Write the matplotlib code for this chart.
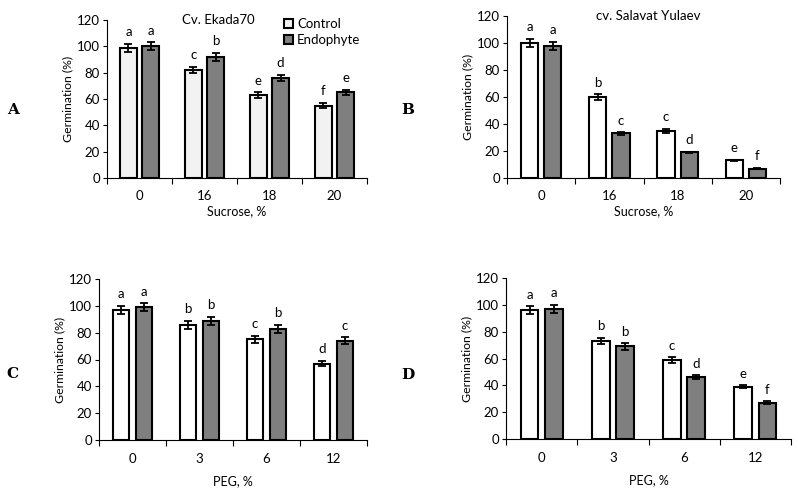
import matplotlib
matplotlib.use("Agg")
import matplotlib.pyplot as plt
import numpy as np
from matplotlib.patches import Patch

plt.rcParams['font.family'] = ['Lato', 'DejaVu Sans']

# ---- data ----
sucrose_cats = ["0", "16", "18", "20"]
peg_cats = ["0", "3", "6", "12"]

A_control = [99, 82, 63, 55]
A_control_err = [3, 2.5, 2, 2]
A_endo = [100, 92, 76, 65]
A_endo_err = [3, 3, 2.5, 2]
A_letters_c = ["a", "c", "e", "f"]
A_letters_e = ["a", "b", "d", "e"]

B_control = [100, 60, 35, 13]
B_control_err = [3, 2, 1.5, 0.4]
B_endo = [98, 33, 19, 7]
B_endo_err = [3, 1, 0.5, 0.4]
B_letters_c = ["a", "b", "c", "e"]
B_letters_e = ["a", "c", "d", "f"]

C_control = [97, 86, 75, 57]
C_control_err = [3, 3, 2.5, 2]
C_endo = [99, 89, 83, 74]
C_endo_err = [3, 3, 3, 2.5]
C_letters_c = ["a", "b", "c", "d"]
C_letters_e = ["a", "b", "b", "c"]

D_control = [96, 73, 59, 39]
D_control_err = [3, 2.5, 2, 1.2]
D_endo = [97, 69, 46, 27]
D_endo_err = [3, 2.5, 1.5, 1]
D_letters_c = ["a", "b", "c", "e"]
D_letters_e = ["a", "b", "d", "f"]

W, H = 798, 494
fig = plt.figure(figsize=(W / 100, H / 100), dpi=100)


def rect(l, r, t, b):
    return [l / W, 1 - b / H, (r - l) / W, (b - t) / H]


def panel(pos, cats, ctrl, ctrl_err, endo, endo_err, lc, le, xlabel,
          ctrl_color, xlabel_pad):
    ax = fig.add_axes(pos)
    x = np.arange(len(cats)) + 0.5
    bw = 0.25
    off = 0.17
    ek = dict(ecolor='black', elinewidth=1.3, capsize=3, capthick=1.3)
    ax.bar(x - off, ctrl, bw, yerr=ctrl_err, color=ctrl_color,
           edgecolor='black', linewidth=1.5, error_kw=ek, zorder=2)
    ax.bar(x + off, endo, bw, yerr=endo_err, color='#7f7f7f',
           edgecolor='black', linewidth=1.5, error_kw=ek, zorder=2)
    for xi, v, e, t in zip(x - off, ctrl, ctrl_err, lc):
        ax.annotate(t, (xi, v + e), xytext=(0, 4), textcoords='offset points',
                    ha='center', va='bottom', fontsize=9.5)
    for xi, v, e, t in zip(x + off, endo, endo_err, le):
        ax.annotate(t, (xi, v + e), xytext=(0, 4), textcoords='offset points',
                    ha='center', va='bottom', fontsize=9.5)
    ax.set_xlim(0, len(cats))
    ax.set_ylim(0, 120)
    ax.set_yticks(np.arange(0, 121, 20))
    ax.set_xticks(x)
    ax.set_xticklabels(cats)
    ax.set_xticks(np.arange(0, len(cats) + 1), minor=True)
    ax.tick_params(axis='x', which='major', length=0, pad=9, labelsize=9.5)
    ax.tick_params(axis='x', which='minor', length=4, width=0.8,
                   direction='out')
    ax.tick_params(axis='y', length=3, width=0.8, direction='out',
                   labelsize=9.5, pad=2)
    for s in ['top', 'right']:
        ax.spines[s].set_visible(False)
    ax.spines['left'].set_linewidth(0.8)
    ax.spines['bottom'].set_linewidth(0.8)
    ax.set_ylabel("Germination (%)", fontsize=8.8, labelpad=3)
    ax.set_xlabel(xlabel, fontsize=9, labelpad=xlabel_pad)
    return ax


axA = panel(rect(107, 367, 20, 178), sucrose_cats, A_control, A_control_err,
            A_endo, A_endo_err, A_letters_c, A_letters_e, "Sucrose, %",
            '#f2f2f2', 2)
axA.text(0.43, 1.0, "Cv. Ekada70", transform=axA.transAxes, ha='center',
         va='center', fontsize=9.5)
axA.legend(handles=[Patch(facecolor='#f2f2f2', edgecolor='black', lw=1.5,
                          label='Control'),
                    Patch(facecolor='#7f7f7f', edgecolor='black', lw=1.5,
                          label='Endophyte')],
           loc='upper left', bbox_to_anchor=(0.66, 1.045), frameon=False,
           fontsize=9.5, handlelength=0.7, handleheight=0.7,
           handletextpad=0.3, labelspacing=0.3, borderaxespad=0)

axB = panel(rect(507, 780, 16, 178), sucrose_cats, B_control, B_control_err,
            B_endo, B_endo_err, B_letters_c, B_letters_e, "Sucrose, %",
            'white', 2)
axB.text(0.516, 1.0, "cv. Salavat Yulaev", transform=axB.transAxes,
         ha='center', va='center', fontsize=9.5)

axC = panel(rect(99, 367, 279, 440), peg_cats, C_control, C_control_err,
            C_endo, C_endo_err, C_letters_c, C_letters_e, "PEG, %",
            'white', 8)
axD = panel(rect(506, 791, 278, 439), peg_cats, D_control, D_control_err,
            D_endo, D_endo_err, D_letters_c, D_letters_e, "PEG, %",
            'white', 8)

for lab, (px, py) in zip("ABCD", [(13, 110), (408, 110), (12, 374), (408, 375)]):
    fig.text(px / W, 1 - py / H, lab, fontsize=11, fontweight='bold',
             family='DejaVu Serif', ha='center', va='center')

fig.savefig("out.png", dpi=100)
